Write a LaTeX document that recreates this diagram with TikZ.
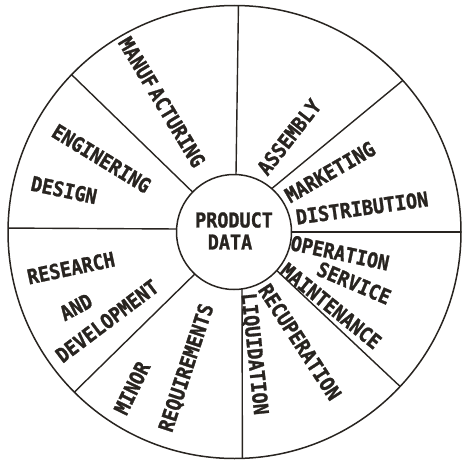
\documentclass[tikz,border=0pt]{standalone}
\usepackage{fontspec}
\newfontfamily\lett{DejaVu Sans Mono}[FakeStretch=0.9,BoldFeatures={FakeBold=1.3}]
\definecolor{ink}{RGB}{40,36,32}
\begin{document}
\begin{tikzpicture}[x=1pt,y=-1pt,
  ring/.style={circle,draw=ink,line width=1.5pt,inner sep=0pt,outer sep=0pt},
  spoke/.style={draw=ink,line width=1.4pt},
  lbl/.style={text=ink,inner sep=0pt,font=\lett\bfseries\fontsize{20.5}{20.5}\selectfont}]
\useasboundingbox (0,0) rectangle (462,463);

% wheel and hub
\node[ring,minimum size=453pt] (outer) at (234.5,232) {};
\node[ring,minimum size=115pt] (hub) at (234,232) {};

% spokes between the hub and the rim
\draw[spoke] (hub.88.5)  -- (outer.89.6);
\draw[spoke] (hub.177.5) -- (outer.179.4);
\draw[spoke] (hub.0)     -- (outer.0);
\draw[spoke] (hub.-82.4) -- (outer.-88.1);
\draw[spoke] (hub.136)   -- (outer.136);
\draw[spoke] (hub.49.4)  -- (outer.42.6);
\draw[spoke] (hub.227)   -- (outer.225.3);
\draw[spoke] (hub.-42.6) -- (outer.-43.7);

% hub text
\node[lbl] (product) at (234,220) {PRODUCT};
\node[lbl] (data) at (230,242) {DATA};

% sector labels
\node[lbl,rotate=-59]   (manuf) at (162,102)   {MANUF\hspace{3pt}ACTURING};
\node[lbl,rotate=-31.5] (eng)   at (101.5,158.5) {ENGINERING};
\node[lbl,rotate=-12]   (des)   at (64,190)    {DESIGN};
\node[lbl,rotate=52]    (asm)   at (289,137)   {ASSEMBLY};
\node[lbl,rotate=30]    (mkt)   at (330,172)   {MARKETING};
\node[lbl,rotate=8]     (dist)  at (362,208)   {DISTRIBUTION};
\node[lbl,rotate=12]    (res)   at (71,268)    {RESEARCH};
\node[lbl,rotate=28]    (and)   at (76,307)    {AND};
\node[lbl,rotate=37]    (dev)   at (107,321)   {DEVELOPMENT};
\node[lbl,rotate=64]    (minor) at (132,388)   {MINOR};
\node[lbl,rotate=71.7]  (req)   at (187,368)   {REQUIREMENTS};
\node[lbl,rotate=-12]   (oper)  at (340,253)   {OPERATION};
\node[lbl,rotate=-23]   (serv)  at (354,283)   {SERVICE};
\node[lbl,rotate=-39]   (maint) at (331,306)   {MAINTENANCE};
\node[lbl,rotate=-57]   (recup) at (300,342)   {RECUPERATION};
\node[lbl,rotate=-84]   (liq)   at (254,354)   {LIQUIDATION};
\end{tikzpicture}
\end{document}
